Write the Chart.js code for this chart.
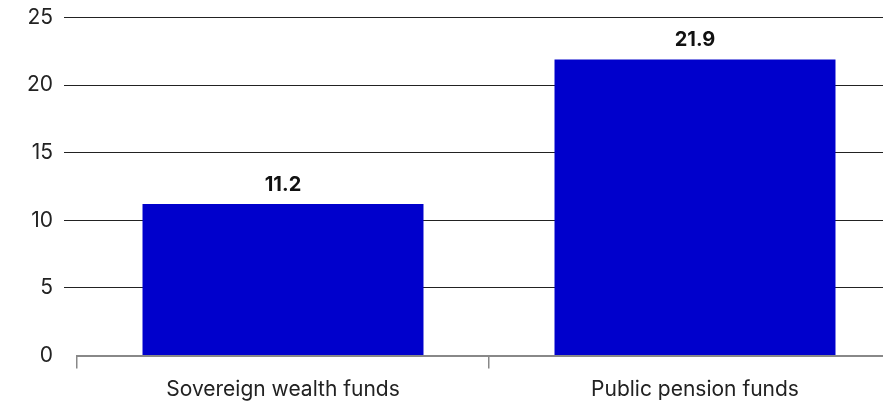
<!DOCTYPE html>
<html>
<head>
<meta charset="utf-8">
<script src="https://cdn.jsdelivr.net/npm/chart.js@4.4.1/dist/chart.umd.min.js"></script>
<style>
  html, body { margin: 0; padding: 0; background: #fff; overflow: hidden; }
  #wrap { position: relative; width: 920px; height: 406px; }
</style>
</head>
<body>
<div id="wrap"><canvas id="chart"></canvas></div>
<script>
// Datos del gráfico
const categorias = ['Sovereign wealth funds', 'Public pension funds'];
const valores = [11.2, 21.9];
const ticksY = [0, 5, 10, 15, 20, 25];

const fuente = "Inter, 'Noto Sans', sans-serif";

// Etiquetas de valor sobre cada barra
const etiquetasValor = {
    id: 'etiquetasValor',
    afterDatasetsDraw(chart) {
        const { ctx } = chart;
        const meta = chart.getDatasetMeta(0);
        ctx.save();
        ctx.font = 'bold 20px ' + fuente;
        ctx.fillStyle = '#111';
        ctx.textAlign = 'center';
        ctx.textBaseline = 'middle';
        meta.data.forEach((bar, i) => {
            ctx.fillText(valores[i].toFixed(1), bar.x, bar.y - 19);
        });
        ctx.restore();
    }
};

new Chart(document.getElementById('chart'), {
    type: 'bar',
    data: {
        labels: categorias,
        datasets: [{
            data: valores,
            backgroundColor: '#0000cc',
            categoryPercentage: 1,
            barPercentage: 0.682
        }]
    },
    options: {
        responsive: true,
        maintainAspectRatio: false,
        animation: false,
        layout: { padding: { top: 17.5, right: 19, left: 0, bottom: 0 } },
        plugins: {
            legend: { display: false },
            tooltip: { enabled: false }
        },
        scales: {
            x: {
                offset: true,
                grid: {
                    offset: true,
                    drawOnChartArea: false,
                    drawTicks: true,
                    tickLength: 13,
                    color: '#888',
                    lineWidth: 1.5
                },
                border: { display: true, color: '#888', width: 2 },
                ticks: {
                    color: '#222',
                    padding: 9,
                    font: { family: fuente, size: 21 }
                },
                afterFit(scale) { scale.height = 50.5; }
            },
            y: {
                min: 0,
                max: 25,
                afterBuildTicks(scale) {
                    scale.ticks = ticksY.map(v => ({ value: v }));
                },
                grid: {
                    color: (c) => c.tick && c.tick.value === 0 ? 'rgba(0,0,0,0)' : '#222',
                    lineWidth: 1,
                    tickLength: 13,
                    drawTicks: true
                },
                border: { display: false },
                ticks: {
                    color: '#222',
                    padding: 11,
                    font: { family: fuente, size: 21, lineHeight: 1 }
                },
                afterFit(scale) {
                    scale.width = 77;
                    scale.paddingTop = 0;
                    scale.paddingBottom = 0;
                }
            }
        }
    },
    plugins: [etiquetasValor]
});
</script>
</body>
</html>
